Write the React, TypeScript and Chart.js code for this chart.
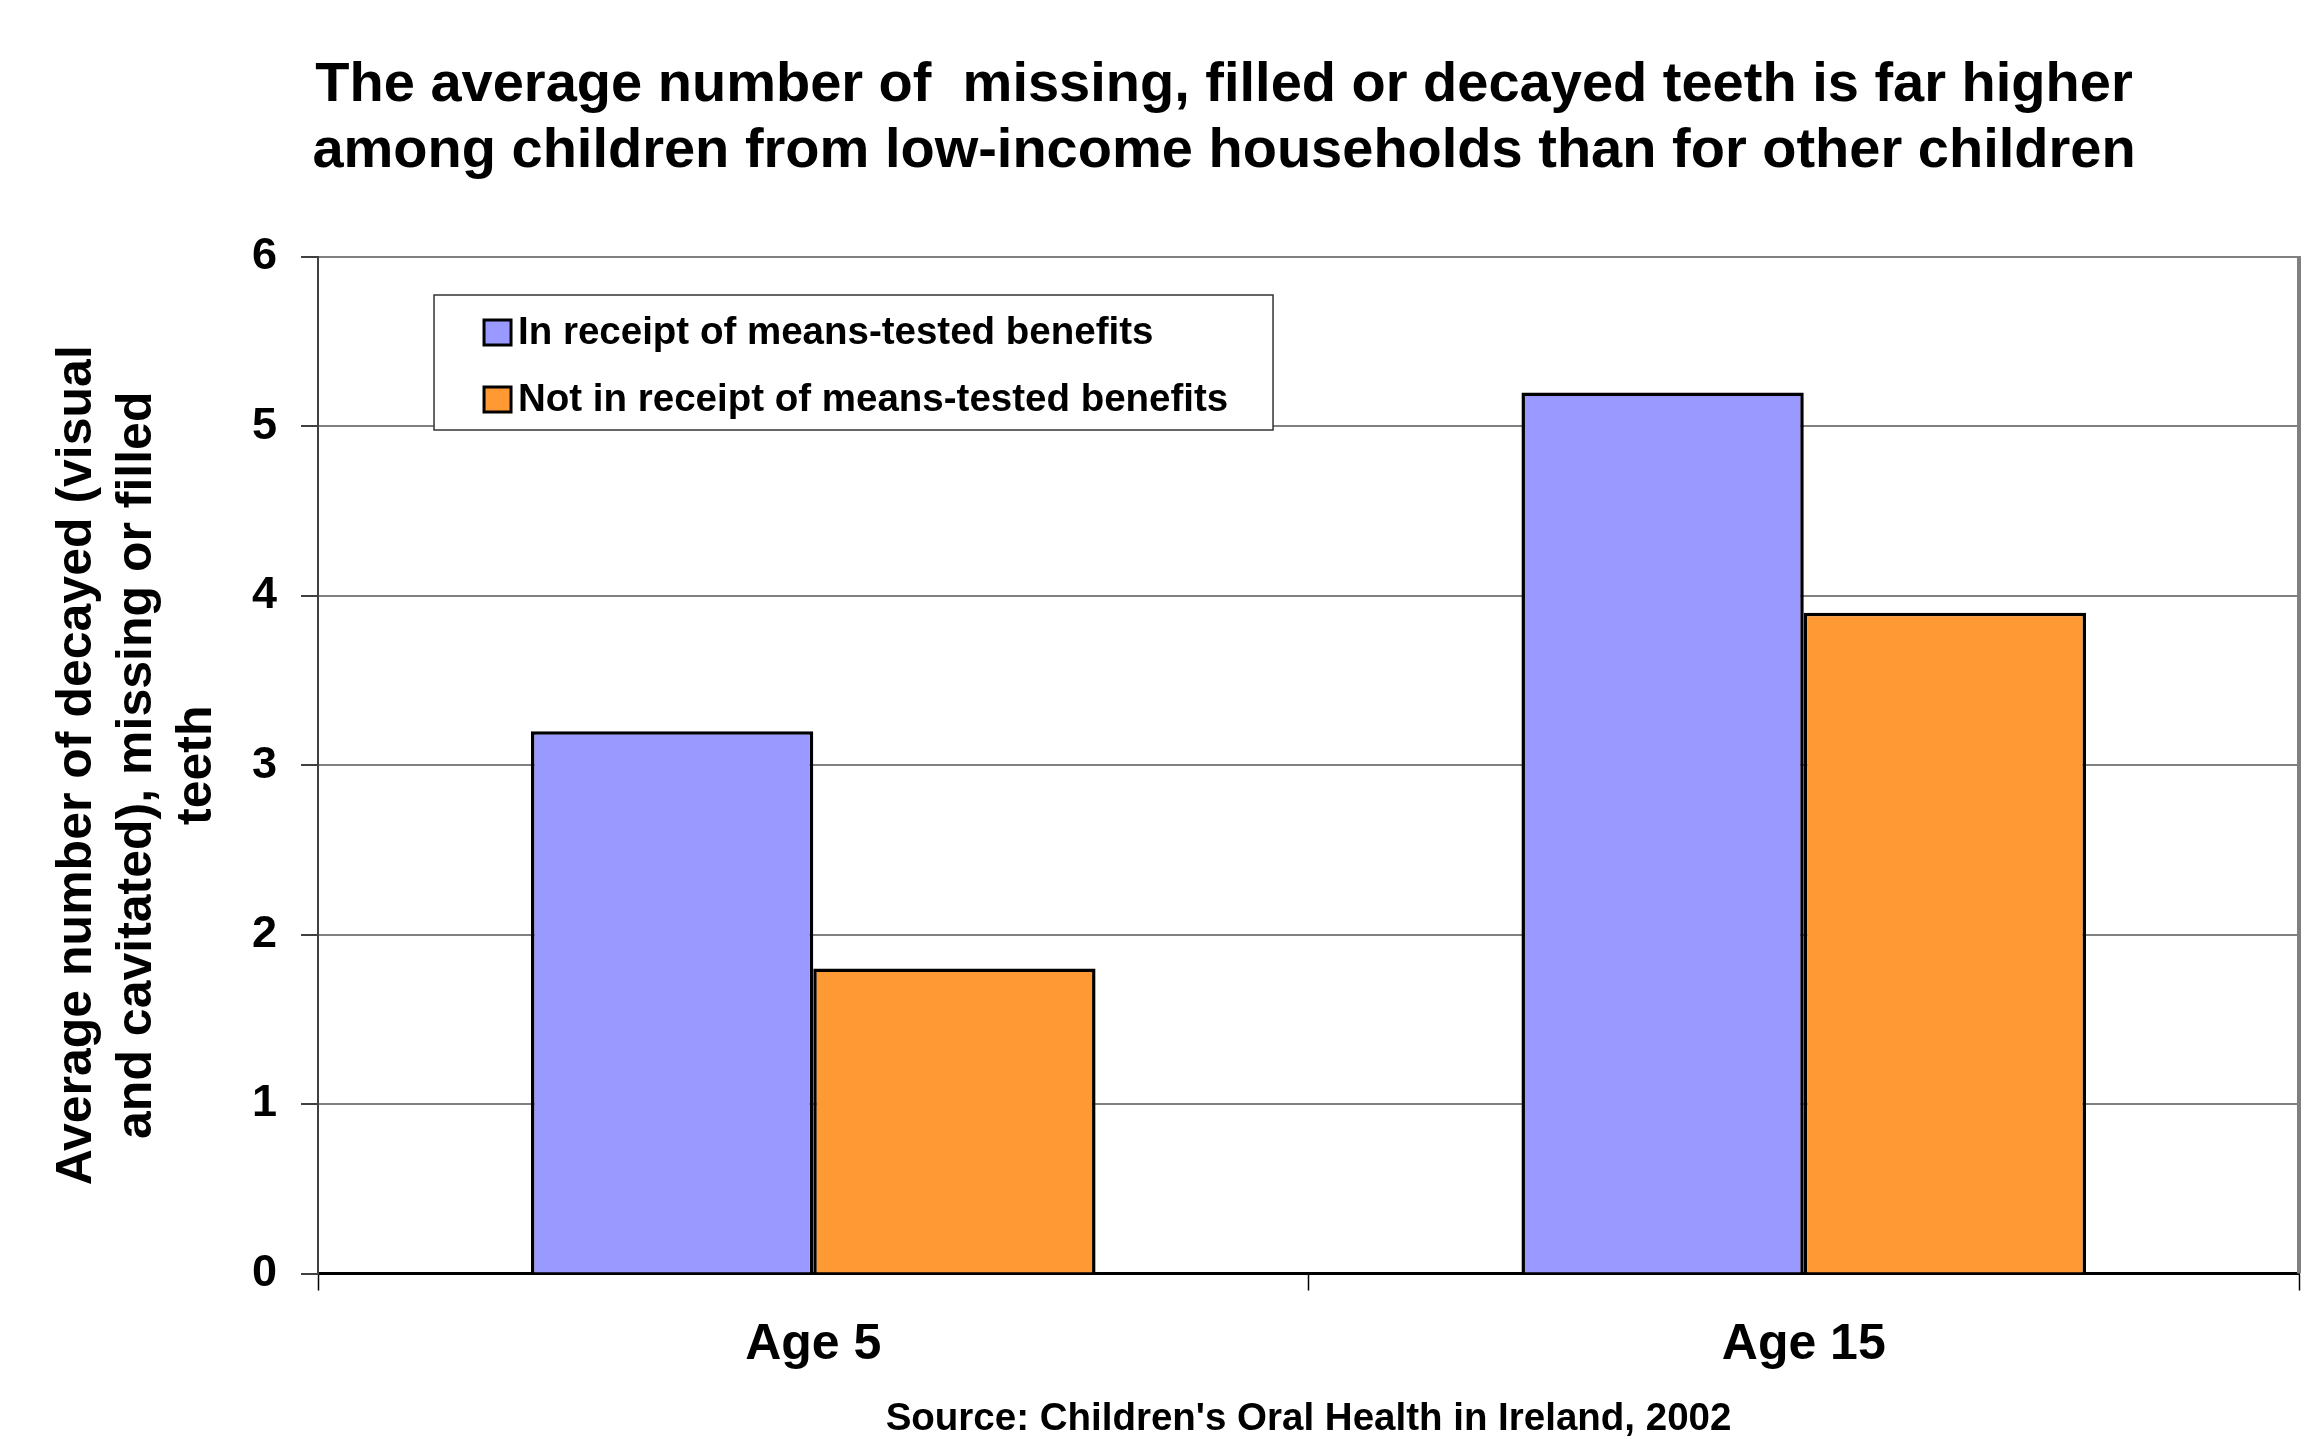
import React, { useEffect, useRef } from "react";
import { Chart, registerables } from "chart.js";

Chart.register(...registerables);

// ---------- data ----------
const TITLE_LINES = [
  "The average number of  missing, filled or decayed teeth is far higher",
  "among children from low-income households than for other children",
];
const CATEGORIES = ["Age 5", "Age 15"];
const SERIES_NAMES = [
  "In receipt of means-tested benefits",
  "Not in receipt of means-tested benefits",
];
const RECEIPT_VALUES = [3.2, 5.2];
const NOT_RECEIPT_VALUES = [1.8, 3.9];
const SERIES_COLORS = ["#9999FF", "#FF9933"];
const Y_MIN = 0;
const Y_MAX = 6;
const Y_STEP = 1;
const Y_TITLE = [
  "Average number of decayed (visual",
  "and cavitated), missing or filled",
  "teeth",
];
const SOURCE = "Source: Children's Oral Health in Ireland, 2002";

// ---------- styling ----------
const FONT = "'Liberation Sans', Arial, Helvetica, sans-serif";
const W = 2308;
const H = 1439;

const headlinePlugin = {
  id: "headline",
  afterDraw(chart: any) {
    const ctx = chart.ctx;
    ctx.save();
    ctx.font = `bold 56px ${FONT}`;
    ctx.fillStyle = "#000";
    ctx.textAlign = "center";
    ctx.textBaseline = "alphabetic";
    TITLE_LINES.forEach((line, i) => ctx.fillText(line, 1224, 101 + i * 66));
    ctx.restore();
  },
};

const frameLegendPlugin = {
  id: "frameLegend",
  afterDatasetsDraw(chart: any) {
    const ctx = chart.ctx;
    const a = chart.chartArea;
    ctx.save();
    // right frame edge
    ctx.strokeStyle = "#808080";
    ctx.lineWidth = 4;
    ctx.beginPath();
    ctx.moveTo(a.right, a.top - 1);
    ctx.lineTo(a.right, a.bottom);
    ctx.stroke();

    // legend box
    const bx = a.left + 116;
    const by = a.top + 38;
    const bw = 839;
    const bh = 135;
    ctx.fillStyle = "#fff";
    ctx.fillRect(bx, by, bw, bh);
    ctx.strokeStyle = "#333";
    ctx.lineWidth = 1.5;
    ctx.strokeRect(bx, by, bw, bh);
    ctx.font = `bold 38.5px ${FONT}`;
    ctx.textBaseline = "middle";
    ctx.textAlign = "left";
    chart.data.datasets.forEach((ds: any, i: number) => {
      const cy = by + 37 + i * 67;
      ctx.fillStyle = ds.backgroundColor;
      ctx.fillRect(bx + 50, cy - 12, 27, 25);
      ctx.strokeStyle = "#000";
      ctx.lineWidth = 3;
      ctx.strokeRect(bx + 50, cy - 12, 27, 25);
      ctx.fillStyle = "#000";
      ctx.fillText(ds.label, bx + 84, cy + 1);
    });
    ctx.restore();
  },
};

export default function App() {
  const canvasRef = useRef<HTMLCanvasElement | null>(null);

  useEffect(() => {
    document.body.style.margin = "0";
    const canvas = canvasRef.current;
    if (!canvas) return;
    const chart = new Chart(canvas, {
      type: "bar",
      data: {
        labels: CATEGORIES,
        datasets: [
          {
            label: SERIES_NAMES[0],
            data: RECEIPT_VALUES,
            backgroundColor: SERIES_COLORS[0],
            borderColor: "#000",
            borderWidth: 3.5,
          },
          {
            label: SERIES_NAMES[1],
            data: NOT_RECEIPT_VALUES,
            backgroundColor: SERIES_COLORS[1],
            borderColor: "#000",
            borderWidth: 3.5,
          },
        ],
      },
      options: {
        animation: false,
        responsive: false,
        devicePixelRatio: 1,
        datasets: {
          bar: { categoryPercentage: 0.57, barPercentage: 1.0 },
        },
        layout: { padding: { top: 257, left: 23, right: 9, bottom: 0 } },
        plugins: {
          legend: { display: false },
          title: { display: false },
          tooltip: { enabled: false },
        },
        scales: {
          x: {
            grid: {
              display: true,
              drawOnChartArea: false,
              drawTicks: true,
              tickLength: 17,
              tickColor: "#000",
              tickWidth: 1.5,
              offset: true,
            },
            border: { display: true, color: "#000", width: 3 },
            ticks: {
              color: "#000",
              font: { family: FONT, size: 50, weight: "bold", lineHeight: 1 },
              padding: 30,
            },
            title: {
              display: true,
              text: SOURCE,
              color: "#000",
              font: { family: FONT, size: 38.5, weight: "bold", lineHeight: 1 },
              padding: { top: 0, bottom: 0 },
            },
          },
          y: {
            min: Y_MIN,
            max: Y_MAX,
            grid: {
              color: "#808080",
              lineWidth: 2,
              tickLength: 17,
              tickColor: "#000",
              tickWidth: 1.5,
            },
            border: { display: true, color: "#404040", width: 2 },
            ticks: {
              stepSize: Y_STEP,
              color: "#000",
              font: { family: FONT, size: 45, weight: "bold" },
              padding: 24,
            },
            title: {
              display: true,
              text: Y_TITLE,
              color: "#000",
              font: { family: FONT, size: 50, weight: "bold", lineHeight: 1.2 },
              padding: { top: 24, bottom: 1 },
            },
          },
        },
      },
      plugins: [headlinePlugin, frameLegendPlugin],
    });
    return () => chart.destroy();
  }, []);

  return (
    <div style={{ width: W, height: H, background: "#fff" }}>
      <canvas ref={canvasRef} width={W} height={H} style={{ display: "block" }} />
    </div>
  );
}
